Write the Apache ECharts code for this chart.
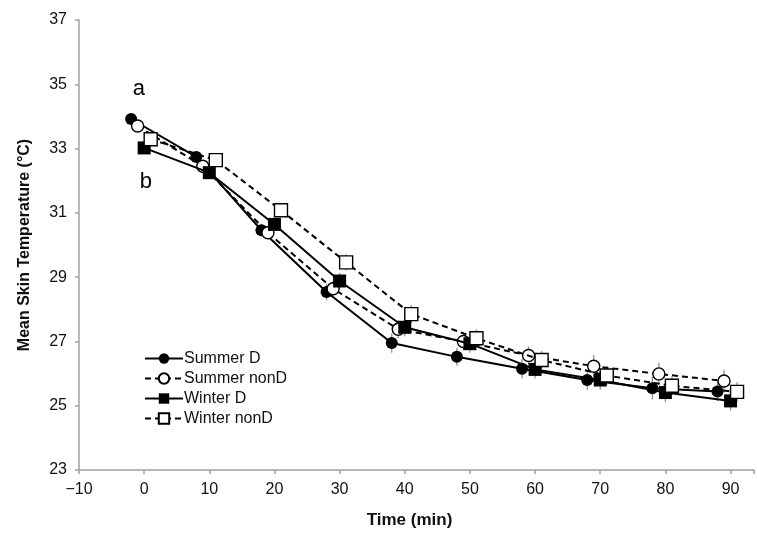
<!DOCTYPE html>
<html>
<head>
<meta charset="utf-8">
<script src="https://cdn.jsdelivr.net/npm/echarts@6/dist/echarts.min.js"></script>
<style>
html,body{margin:0;padding:0;background:#fff;}
#chart{width:757px;height:534px;}
</style>
</head>
<body>
<div id="chart"></div>
<script>
// ---- data ----
const times = [0, 10, 20, 30, 40, 50, 60, 70, 80, 90];
const seriesNames = ['Summer D', 'Summer nonD', 'Winter D', 'Winter nonD'];
const summerD    = [33.92, 32.74, 30.46, 28.54, 26.95, 26.52, 26.15, 25.80, 25.54, 25.44];
const summerNonD = [33.70, 32.45, 30.38, 28.64, 27.38, 27.00, 26.56, 26.23, 25.99, 25.77];
const winterD    = [33.02, 32.25, 30.64, 28.88, 27.44, 26.93, 26.13, 25.80, 25.41, 25.15];
const winterNonD = [33.29, 32.64, 31.08, 29.46, 27.85, 27.10, 26.42, 25.94, 25.62, 25.43];
const summerDErr    = [0.15, 0.15, 0.20, 0.25, 0.30, 0.28, 0.30, 0.30, 0.35, 0.30];
const summerNonDErr = [0.15, 0.15, 0.20, 0.25, 0.28, 0.28, 0.28, 0.35, 0.35, 0.35];
const winterDErr    = [0.15, 0.15, 0.20, 0.25, 0.28, 0.28, 0.28, 0.30, 0.30, 0.30];
const winterNonDErr = [0.15, 0.15, 0.20, 0.25, 0.28, 0.28, 0.28, 0.30, 0.30, 0.30];
const timeOffsets = [-2, -1, 0, 1];
const xTicks = [-10, 0, 10, 20, 30, 40, 50, 60, 70, 80, 90];
const yTicks = [23, 25, 27, 29, 31, 33, 35, 37];
const annotLabels = ['a', 'b'];
const annotX = [-0.8, 0.25];
const annotY = [34.86, 31.95];

// ---- build ----
const values = [summerD, summerNonD, winterD, winterNonD];
const errs = [summerDErr, summerNonDErr, winterDErr, winterNonDErr];
const symbols = ['circle', 'circle', 'rect', 'rect'];
const filled = [true, false, true, false];
const dashed = [false, true, false, true];
const FONT = '"Liberation Sans", Arial, sans-serif';

const series = [];
// error bars
values.forEach((vals, i) => {
  series.push({
    type: 'custom',
    name: seriesNames[i] + ' err',
    z: 1,
    silent: true,
    data: vals.map((v, j) => [times[j] + timeOffsets[i], v, errs[i][j]]),
    renderItem: function (params, api) {
      const x = api.value(0), y = api.value(1), e = api.value(2);
      const p1 = api.coord([x, y + e]);
      const p2 = api.coord([x, y - e]);
      return {
        type: 'line',
        shape: {x1: p1[0], y1: p1[1], x2: p2[0], y2: p2[1]},
        style: {stroke: '#8a8a8a', lineWidth: 1.2}
      };
    }
  });
});
values.forEach((vals, i) => {
  series.push({
    type: 'line',
    name: seriesNames[i],
    z: 3 + i,
    data: vals.map((v, j) => [times[j] + timeOffsets[i], v]),
    symbol: symbols[i],
    symbolSize: symbols[i] === 'rect' ? 13 : 12,
    showAllSymbol: true,
    lineStyle: {color: '#000', width: 2, type: dashed[i] ? [6, 4] : 'solid'},
    itemStyle: {
      color: filled[i] ? '#000' : '#fff',
      borderColor: '#000',
      borderWidth: filled[i] ? 0 : 1.4
    },
    emphasis: {disabled: true},
    animation: false
  });
});
series.push({
  type: 'scatter',
  name: 'annot',
  symbolSize: 0,
  silent: true,
  z: 10,
  itemStyle: {opacity: 1},
  data: annotLabels.map((l, k) => ({value: [annotX[k], annotY[k]], label: {formatter: l}})),
  label: {
    show: true,
    position: 'inside',
    fontFamily: FONT,
    fontSize: 22,
    color: '#000',
    opacity: 1
  }
});

const chart = echarts.init(document.getElementById('chart'));
chart.setOption({
  animation: false,
  backgroundColor: '#fff',
  grid: {left: 79, right: 0, top: 20, bottom: 60, containLabel: false},
  xAxis: {
    type: 'value',
    min: xTicks[0],
    max: 93.6,
    interval: 10,
    name: 'Time (min)',
    nameLocation: 'middle',
    nameGap: 42,
    nameTextStyle: {fontFamily: FONT, fontSize: 17, fontWeight: 'bold', color: '#111', padding: [0, 14, 0, 0]},
    splitLine: {show: false},
    axisLine: {onZero: false, lineStyle: {color: '#a0a0a0', width: 1.5}},
    axisTick: {show: true, length: 4, lineStyle: {color: '#a0a0a0', width: 1.5}},
    axisLabel: {
      margin: 12,
      fontFamily: FONT, fontSize: 16, color: '#111',
      formatter: function (v) {
        if (xTicks.indexOf(v) < 0) return '';
        return v < 0 ? '\u2212' + Math.abs(v) : String(v);
      }
    }
  },
  yAxis: {
    type: 'value',
    min: yTicks[0],
    max: yTicks[yTicks.length - 1],
    interval: 2,
    name: 'Mean Skin Temperature (\u00B0C)',
    nameLocation: 'middle',
    nameGap: 46,
    nameTextStyle: {fontFamily: FONT, fontSize: 16, fontWeight: 'bold', color: '#111'},
    splitLine: {show: false},
    axisLine: {show: true, onZero: false, lineStyle: {color: '#a0a0a0', width: 1.5}},
    axisTick: {show: true, length: 4, lineStyle: {color: '#a0a0a0', width: 1.5}},
    axisLabel: {margin: 12, fontFamily: FONT, fontSize: 16, color: '#111'}
  },
  legend: {
    data: seriesNames,
    orient: 'vertical',
    left: 139,
    top: 345.5,
    itemWidth: 38,
    itemHeight: 13,
    itemGap: 4,
    selectedMode: false,
    textStyle: {fontFamily: FONT, fontSize: 16, color: '#111', padding: [0, 0, 0, -4]}
  },
  series: series
});
</script>
</body>
</html>
